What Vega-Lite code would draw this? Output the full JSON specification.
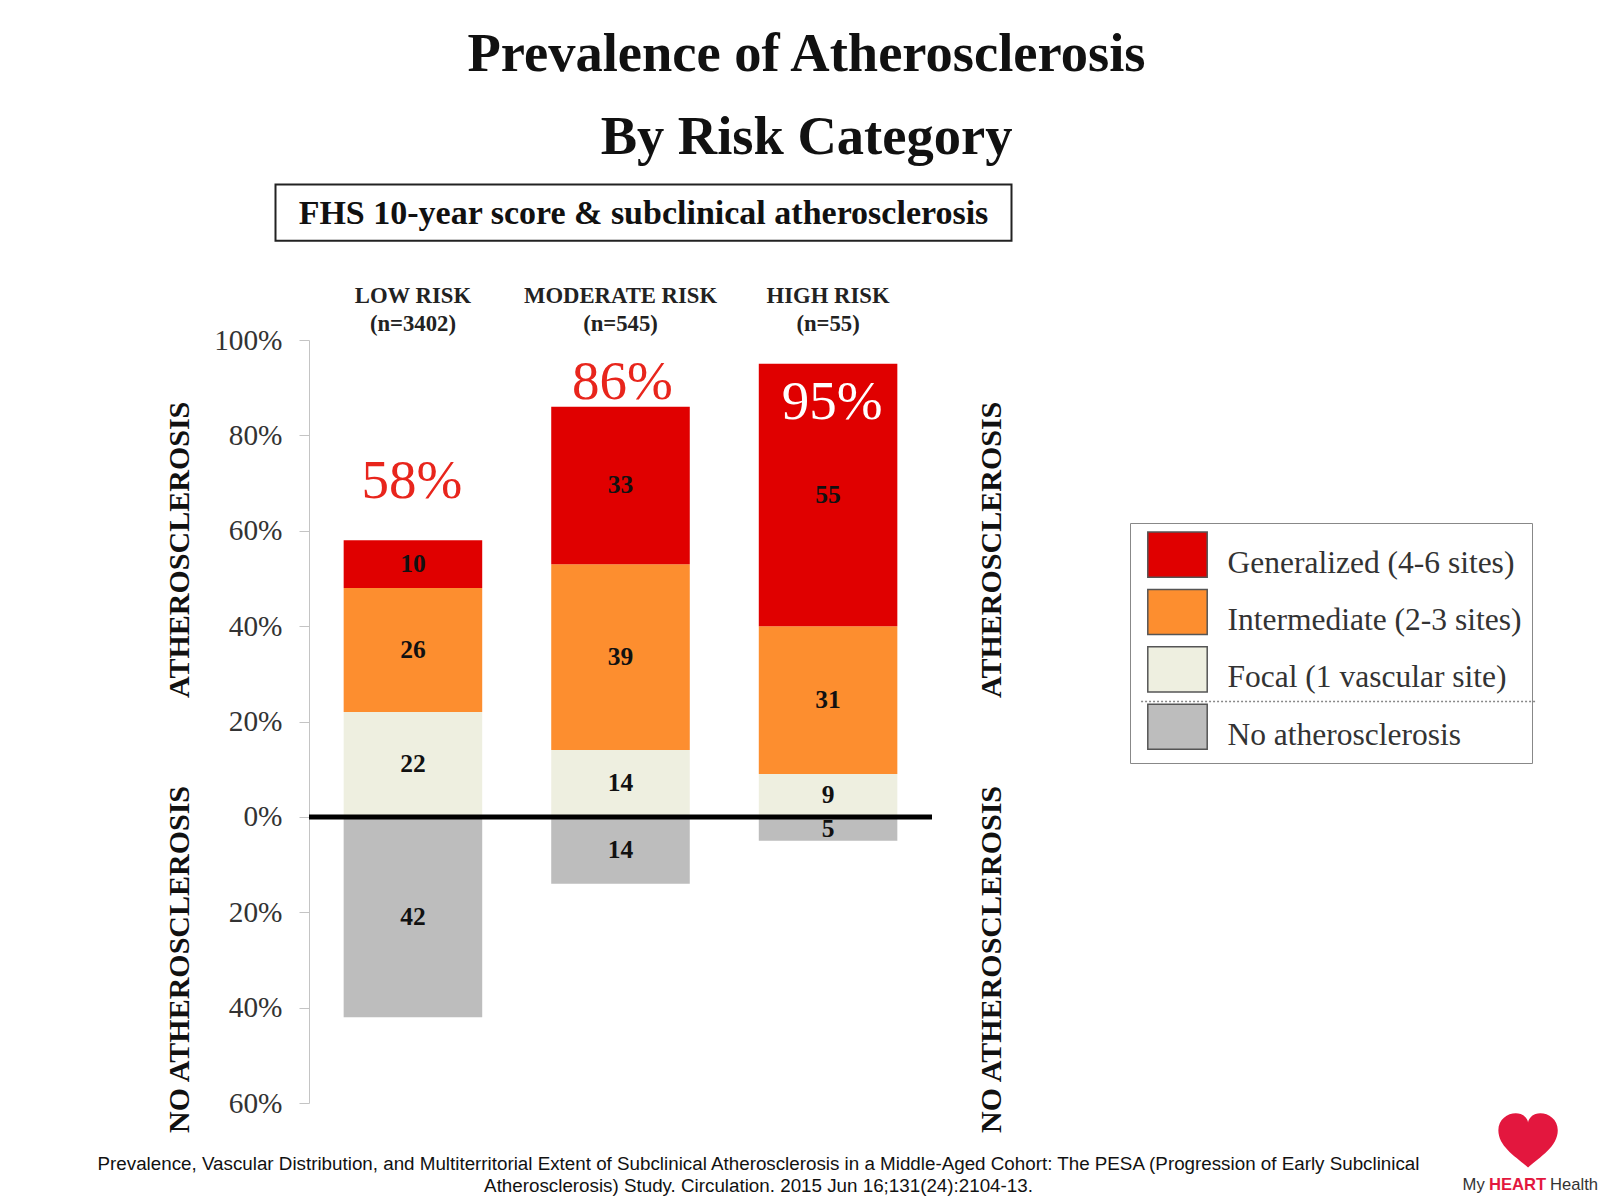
{
  "$schema": "https://vega.github.io/schema/vega-lite/v6.json",
  "autosize": {"type": "none"},
  "padding": {"left": 309, "top": 340, "right": 674, "bottom": 101},
  "width": 623,
  "height": 763,
  "background": "white",
  "config": {"view": {"stroke": null}, "font": "Liberation Serif"},
  "title": {
    "text": ["Prevalence of Atherosclerosis", "By Risk Category"],
    "font": "Liberation Serif",
    "fontSize": 54.5,
    "fontWeight": "bold",
    "color": "#111111",
    "lineHeight": 83,
    "anchor": "middle",
    "dx": 186,
    "offset": 18
  },
  "layer": [
    {
      "data": {"values": [{"note": "FHS 10-year score & subclinical atherosclerosis"}]},
      "mark": {"type": "rect", "fill": "white", "stroke": "#222222", "strokeWidth": 2, "width": 736, "xOffset": 23},
      "encoding": {
        "x": {"datum": "Moderate", "type": "nominal"},
        "y": {"datum": 132.6, "type": "quantitative"},
        "y2": {"datum": 120.8}
      }
    },
    {
      "data": {"values": [{"note": "FHS 10-year score & subclinical atherosclerosis"}]},
      "mark": {"type": "text", "font": "Liberation Serif", "fontSize": 34, "fontWeight": "bold", "color": "#111111", "dx": 23, "baseline": "middle"},
      "encoding": {
        "x": {"datum": "Moderate", "type": "nominal"},
        "y": {"datum": 126.4, "type": "quantitative"},
        "text": {"field": "note"}
      }
    },
    {
      "data": {
        "values": [
          {"risk": "Low", "segment": "Focal (1 vascular site)", "value": 22, "order": 1},
          {"risk": "Low", "segment": "Intermediate (2-3 sites)", "value": 26, "order": 2},
          {"risk": "Low", "segment": "Generalized (4-6 sites)", "value": 10, "order": 3},
          {"risk": "Low", "segment": "No atherosclerosis", "value": -42, "order": 4},
          {"risk": "Moderate", "segment": "Focal (1 vascular site)", "value": 14, "order": 1},
          {"risk": "Moderate", "segment": "Intermediate (2-3 sites)", "value": 39, "order": 2},
          {"risk": "Moderate", "segment": "Generalized (4-6 sites)", "value": 33, "order": 3},
          {"risk": "Moderate", "segment": "No atherosclerosis", "value": -14, "order": 4},
          {"risk": "High", "segment": "Focal (1 vascular site)", "value": 9, "order": 1},
          {"risk": "High", "segment": "Intermediate (2-3 sites)", "value": 31, "order": 2},
          {"risk": "High", "segment": "Generalized (4-6 sites)", "value": 55, "order": 3},
          {"risk": "High", "segment": "No atherosclerosis", "value": -5, "order": 4}
        ]
      },
      "transform": [
        {"stack": "value", "groupby": ["risk"], "sort": [{"field": "order"}], "as": ["y0", "y1"]},
        {"calculate": "(datum.y0 + datum.y1) / 2", "as": "mid"},
        {"calculate": "abs(datum.value)", "as": "label"}
      ],
      "layer": [
        {
          "mark": {"type": "bar"},
          "encoding": {
            "x": {
              "field": "risk",
              "type": "nominal",
              "sort": null,
              "scale": {"domain": ["Low", "Moderate", "High"], "paddingInner": 0.3325, "paddingOuter": 0.167},
              "axis": {
                "orient": "top",
                "title": null,
                "domain": false,
                "ticks": false,
                "labelAngle": 0,
                "labelAlign": "center",
                "labelExpr": "datum.label == 'Low' ? ['LOW RISK', '(n=3402)'] : datum.label == 'Moderate' ? ['MODERATE RISK', '(n=545)'] : ['HIGH RISK', '(n=55)']",
                "labelFont": "Liberation Serif",
                "labelFontSize": 22.7,
                "labelFontWeight": "bold",
                "labelColor": "#222222",
                "labelLineHeight": 28,
                "labelPadding": 45,
                "labelLimit": 0
              }
            },
            "y": {
              "field": "y0",
              "type": "quantitative",
              "scale": {"domain": [-60, 100], "nice": false, "zero": false},
              "axis": {
                "values": [-60, -40, -20, 0, 20, 40, 60, 80, 100],
                "labelExpr": "abs(datum.value) + '%'",
                "grid": false,
                "title": null,
                "domainColor": "#c4c4c4",
                "tickColor": "#c4c4c4",
                "tickSize": 10,
                "labelFont": "Liberation Serif",
                "labelFontSize": 29.3,
                "labelColor": "#333333",
                "labelPadding": 17
              }
            },
            "y2": {"field": "y1"},
            "color": {
              "field": "segment",
              "type": "nominal",
              "scale": {
                "domain": ["Generalized (4-6 sites)", "Intermediate (2-3 sites)", "Focal (1 vascular site)", "No atherosclerosis"],
                "range": ["#e00000", "#fd8e2f", "#eeefe0", "#bdbdbd"]
              },
              "legend": {
                "orient": "none",
                "legendX": 821,
                "legendY": 183,
                "title": null,
                "symbolType": "M-1,-1.06H1V0.46H-1Z",
                "symbolSize": 3530,
                "symbolOffset": 7,
                "symbolStrokeColor": "#555555",
                "symbolStrokeWidth": 1.5,
                "labelFont": "Liberation Serif",
                "labelFontSize": 31.5,
                "labelColor": "#333333",
                "labelOffset": 19.5,
                "labelLimit": 400,
                "rowPadding": 5.4,
                "padding": 10,
                "strokeColor": "#888888"
              }
            }
          }
        },
        {
          "mark": {"type": "text", "font": "Liberation Serif", "fontSize": 25.5, "fontWeight": "bold", "color": "#111111", "baseline": "middle"},
          "encoding": {
            "x": {"field": "risk", "type": "nominal", "sort": null},
            "y": {"field": "mid", "type": "quantitative"},
            "text": {"field": "label", "type": "quantitative"}
          }
        }
      ]
    },
    {
      "data": {"values": [{"zero": 0}]},
      "mark": {"type": "rule", "color": "#000000", "strokeWidth": 5},
      "encoding": {"y": {"field": "zero", "type": "quantitative"}}
    },
    {
      "data": {"values": [{"note": "legend separator"}]},
      "mark": {"type": "rule", "color": "#888888", "strokeWidth": 1.5, "strokeDash": [2, 2], "xOffset": 313, "x2Offset": 709},
      "encoding": {
        "x": {"datum": "High", "type": "nominal"},
        "x2": {"datum": "High"},
        "y": {"datum": 24.2, "type": "quantitative"}
      }
    },
    {
      "data": {"values": [{"risk": "Low", "total": 58, "label": "58%"}]},
      "mark": {"type": "text", "font": "Liberation Serif", "fontSize": 55, "color": "#e8251c", "dy": -59, "dx": -1, "baseline": "middle"},
      "encoding": {
        "x": {"field": "risk", "type": "nominal"},
        "y": {"field": "total", "type": "quantitative"},
        "text": {"field": "label"}
      }
    },
    {
      "data": {"values": [{"risk": "Moderate", "total": 86, "label": "86%"}]},
      "mark": {"type": "text", "font": "Liberation Serif", "fontSize": 55, "color": "#e8251c", "dy": -25, "dx": 2, "baseline": "middle"},
      "encoding": {
        "x": {"field": "risk", "type": "nominal"},
        "y": {"field": "total", "type": "quantitative"},
        "text": {"field": "label"}
      }
    },
    {
      "data": {"values": [{"risk": "High", "total": 95, "label": "95%"}]},
      "mark": {"type": "text", "font": "Liberation Serif", "fontSize": 55, "color": "#ffffff", "dy": 38, "dx": 4, "baseline": "middle"},
      "encoding": {
        "x": {"field": "risk", "type": "nominal"},
        "y": {"field": "total", "type": "quantitative"},
        "text": {"field": "label"}
      }
    },
    {
      "data": {"values": [{"note": "ATHEROSCLEROSIS"}]},
      "mark": {"type": "text", "font": "Liberation Serif", "fontSize": 30, "fontWeight": "bold", "color": "#111111", "angle": 270, "dy": -233, "baseline": "middle", "align": "center"},
      "encoding": {
        "x": {"datum": "Low", "type": "nominal"},
        "y": {"datum": 56.0, "type": "quantitative"},
        "text": {"field": "note"}
      }
    },
    {
      "data": {"values": [{"note": "NO ATHEROSCLEROSIS"}]},
      "mark": {"type": "text", "font": "Liberation Serif", "fontSize": 30, "fontWeight": "bold", "color": "#111111", "angle": 270, "dy": -233, "baseline": "middle", "align": "center"},
      "encoding": {
        "x": {"datum": "Low", "type": "nominal"},
        "y": {"datum": -29.9, "type": "quantitative"},
        "text": {"field": "note"}
      }
    },
    {
      "data": {"values": [{"note": "ATHEROSCLEROSIS"}]},
      "mark": {"type": "text", "font": "Liberation Serif", "fontSize": 30, "fontWeight": "bold", "color": "#111111", "angle": 270, "dy": 164, "baseline": "middle", "align": "center"},
      "encoding": {
        "x": {"datum": "High", "type": "nominal"},
        "y": {"datum": 56.0, "type": "quantitative"},
        "text": {"field": "note"}
      }
    },
    {
      "data": {"values": [{"note": "NO ATHEROSCLEROSIS"}]},
      "mark": {"type": "text", "font": "Liberation Serif", "fontSize": 30, "fontWeight": "bold", "color": "#111111", "angle": 270, "dy": 164, "baseline": "middle", "align": "center"},
      "encoding": {
        "x": {"datum": "High", "type": "nominal"},
        "y": {"datum": -29.9, "type": "quantitative"},
        "text": {"field": "note"}
      }
    },
    {
      "data": {"values": [{"note": "source"}]},
      "mark": {"type": "text", "font": "Liberation Sans", "fontSize": 18.8, "color": "#111111", "dx": 138, "baseline": "middle", "align": "center", "lineHeight": 21.5},
      "encoding": {
        "x": {"datum": "Moderate", "type": "nominal"},
        "y": {"datum": -72.8, "type": "quantitative"},
        "text": {"value": ["Prevalence, Vascular Distribution, and Multiterritorial Extent of Subclinical Atherosclerosis in a Middle-Aged Cohort: The PESA (Progression of Early Subclinical", "Atherosclerosis) Study. Circulation. 2015 Jun 16;131(24):2104-13."]}
      }
    },
    {
      "data": {"values": [{"note": "heart"}]},
      "mark": {"type": "point", "shape": "M0,0.9C-0.4,0.55,-1,0.2,-1,-0.35C-1,-0.8,-0.55,-1,-0.25,-0.9C-0.1,-0.85,0,-0.7,0,-0.6C0,-0.7,0.1,-0.85,0.25,-0.9C0.55,-1,1,-0.8,1,-0.35C1,0.2,0.4,0.55,0,0.9Z", "filled": true, "fill": "#e3173e", "opacity": 1, "size": 3530, "xOffset": 700},
      "encoding": {
        "x": {"datum": "High", "type": "nominal"},
        "y": {"datum": -67.9, "type": "quantitative"}
      }
    },
    {
      "data": {"values": [{"note": "My"}]},
      "mark": {"type": "text", "font": "Liberation Sans", "fontSize": 16.6, "color": "#333333", "dx": 634.5, "baseline": "middle", "align": "left"},
      "encoding": {
        "x": {"datum": "High", "type": "nominal"},
        "y": {"datum": -77.3, "type": "quantitative"},
        "text": {"field": "note"}
      }
    },
    {
      "data": {"values": [{"note": "HEART"}]},
      "mark": {"type": "text", "font": "Liberation Sans", "fontSize": 16.6, "fontWeight": "bold", "color": "#e3173e", "dx": 661, "baseline": "middle", "align": "left"},
      "encoding": {
        "x": {"datum": "High", "type": "nominal"},
        "y": {"datum": -77.3, "type": "quantitative"},
        "text": {"field": "note"}
      }
    },
    {
      "data": {"values": [{"note": "Health"}]},
      "mark": {"type": "text", "font": "Liberation Sans", "fontSize": 16.6, "color": "#333333", "dx": 722, "baseline": "middle", "align": "left"},
      "encoding": {
        "x": {"datum": "High", "type": "nominal"},
        "y": {"datum": -77.3, "type": "quantitative"},
        "text": {"field": "note"}
      }
    }
  ]
}
